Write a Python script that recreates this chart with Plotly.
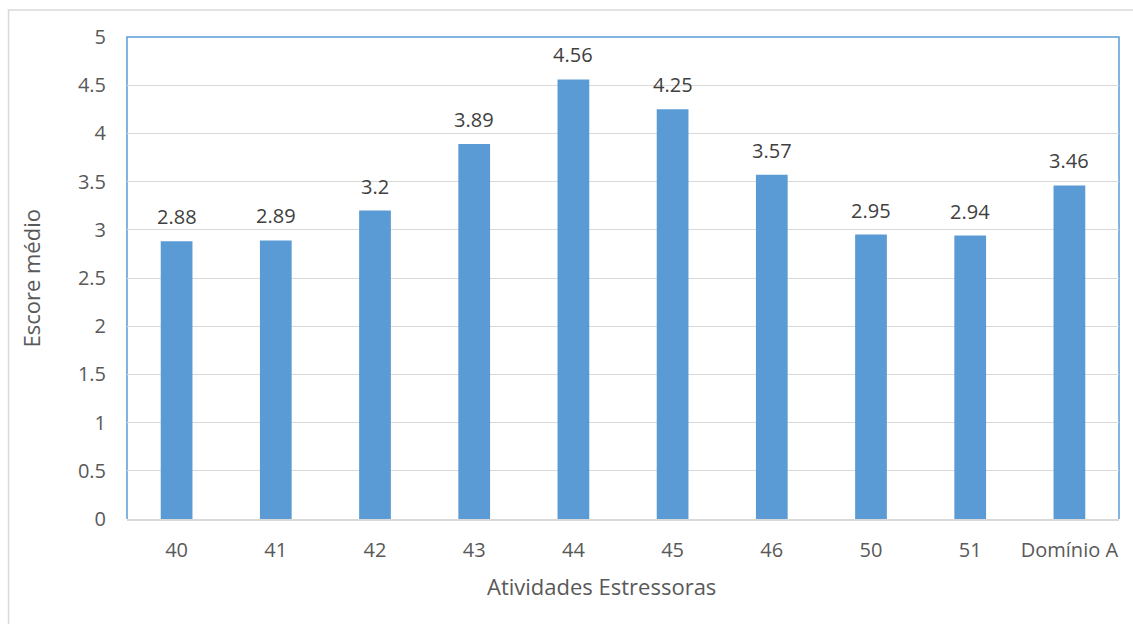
import plotly.graph_objects as go

categorias = ["40", "41", "42", "43", "44", "45", "46", "50", "51", "Domínio A"]
escores = [2.88, 2.89, 3.2, 3.89, 4.56, 4.25, 3.57, 2.95, 2.94, 3.46]
rotulos = ["2.88", "2.89", "3.2", "3.89", "4.56", "4.25", "3.57", "2.95", "2.94", "3.46"]

W, H = 1133, 624
ML, MR, MT, MB = 126.5, 14, 36.5, 105
FONTE = "Open Sans, Lato, sans-serif"

pw = W - ML - MR
ph = H - MT - MB

fig = go.Figure(
    go.Bar(
        x=categorias,
        y=escores,
        marker=dict(color="#5B9BD5", line=dict(width=0)),
        hoverinfo="x+y",
    )
)

# value labels above each bar (category axis positions are indices)
anotacoes = [
    dict(
        x=i, y=v, text=t, xref="x", yref="y",
        showarrow=False, yanchor="bottom", yshift=9,
        font=dict(family=FONTE, size=20, color="#404040"),
    )
    for i, (v, t) in enumerate(zip(escores, rotulos))
]

# axis titles
anotacoes.append(dict(
    text="Atividades Estressoras", xref="paper", yref="paper",
    x=(601 - ML) / pw, y=-(586 - (H - MB)) / ph, xanchor="center", yanchor="middle",
    showarrow=False, font=dict(family=FONTE, size=22, color="#595959"),
))
anotacoes.append(dict(
    text="Escore médio", xref="paper", yref="paper",
    x=(30 - ML) / pw, y=0.5, xanchor="center", yanchor="middle",
    textangle=-90, showarrow=False,
    font=dict(family=FONTE, size=22, color="#595959"),
))

fig.update_layout(
    width=W,
    height=H,
    margin=dict(l=ML, r=MR, t=MT, b=MB),
    paper_bgcolor="white",
    plot_bgcolor="white",
    bargap=0.68,
    showlegend=False,
    font=dict(family=FONTE, color="#595959", size=20),
    xaxis=dict(
        type="category",
        range=[-0.5, len(categorias) - 0.5],
        showline=True,
        linecolor="#D9D9D9",
        linewidth=1.5,
        ticks="",
        ticklabelstandoff=12,
        tickfont=dict(family=FONTE, size=20, color="#595959"),
    ),
    yaxis=dict(
        range=[0, 5],
        dtick=0.5,
        showgrid=True,
        gridcolor="#D9D9D9",
        gridwidth=1,
        zeroline=False,
        showline=False,
        ticks="",
        ticklabelstandoff=20,
        tickfont=dict(family=FONTE, size=20, color="#595959"),
    ),
    annotations=anotacoes,
    shapes=[
        # outer chart frame
        dict(
            type="rect", xref="paper", yref="paper",
            x0=(8 - ML) / pw, x1=(W + 10 - ML) / pw,
            y0=-(H + 10 - MT - ph) / ph, y1=1 + (MT - 9.5) / ph,
            line=dict(color="#D9D9D9", width=1.5), layer="below",
        ),
        # plot area frame: left, top and right sides
        dict(
            type="path", xref="paper", yref="paper",
            path="M 0,0 L 0,1 L 1,1 L 1,0",
            line=dict(color="#5B9BD5", width=1.5), layer="below",
        ),
    ],
)

fig.write_html("out.html")
